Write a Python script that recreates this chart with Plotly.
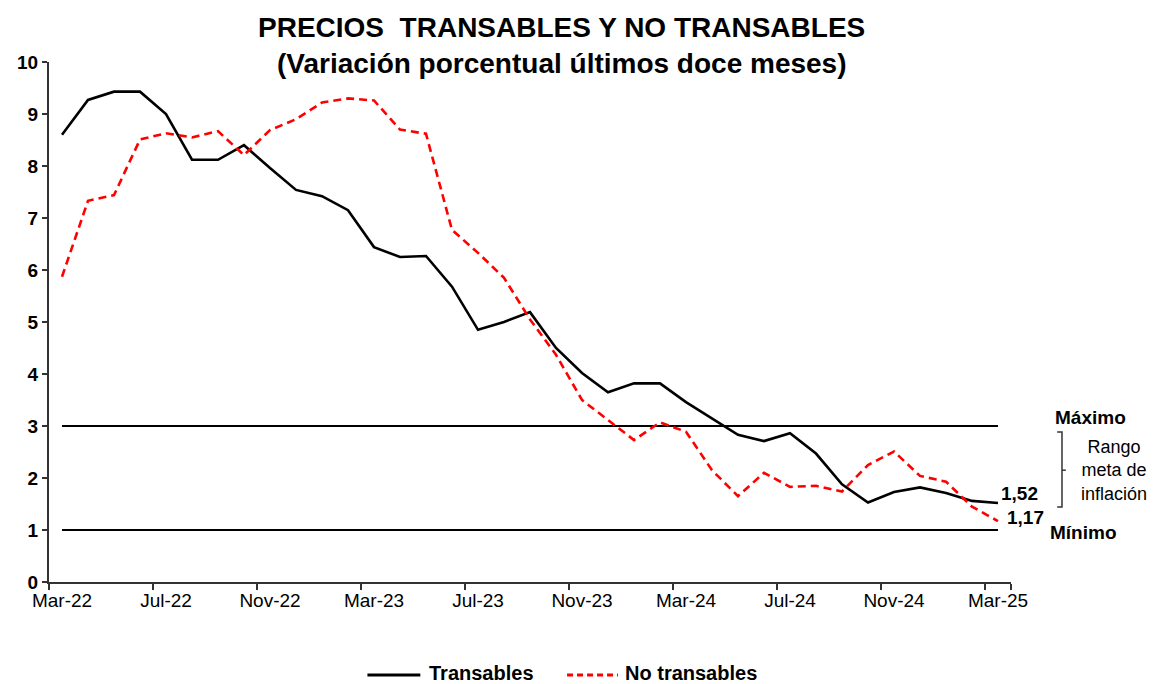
import plotly.graph_objects as go

# monthly categories, Mar-22 .. Mar-25
months = ['Mar-22', 'Apr-22', 'May-22', 'Jun-22', 'Jul-22', 'Aug-22', 'Sep-22', 'Oct-22',
          'Nov-22', 'Dec-22', 'Jan-23', 'Feb-23', 'Mar-23', 'Apr-23', 'May-23', 'Jun-23',
          'Jul-23', 'Aug-23', 'Sep-23', 'Oct-23', 'Nov-23', 'Dec-23', 'Jan-24', 'Feb-24',
          'Mar-24', 'Apr-24', 'May-24', 'Jun-24', 'Jul-24', 'Aug-24', 'Sep-24', 'Oct-24',
          'Nov-24', 'Dec-24', 'Jan-25', 'Feb-25', 'Mar-25']
tick_labels = ['Mar-22', 'Jul-22', 'Nov-22', 'Mar-23', 'Jul-23', 'Nov-23',
               'Mar-24', 'Jul-24', 'Nov-24', 'Mar-25']

transables = [8.60, 9.27, 9.43, 9.43, 9.00, 8.12, 8.12, 8.40, 7.96, 7.54, 7.42, 7.15,
              6.44, 6.25, 6.27, 5.68, 4.85, 5.00, 5.19, 4.50, 4.02, 3.65, 3.82, 3.82,
              3.46, 3.15, 2.83, 2.71, 2.86, 2.47, 1.88, 1.53, 1.73, 1.82, 1.71, 1.56, 1.52]
no_transables = [5.87, 7.33, 7.44, 8.51, 8.63, 8.55, 8.67, 8.21, 8.69, 8.90, 9.22, 9.30,
                 9.26, 8.70, 8.62, 6.77, 6.33, 5.85, 5.05, 4.37, 3.50, 3.12, 2.73, 3.07,
                 2.89, 2.15, 1.65, 2.10, 1.83, 1.85, 1.74, 2.25, 2.51, 2.04, 1.93, 1.45, 1.17]

# inflation target range
meta_max = 3
meta_min = 1

FONT = 'Liberation Sans, Arial, sans-serif'
RED_DASH = '8px,5px'

fig = go.Figure()

# target range lines
for v in [meta_max, meta_min]:
    fig.add_trace(go.Scatter(x=months, y=[v] * len(months), mode='lines',
                             line=dict(color='black', width=2),
                             showlegend=False, hoverinfo='skip'))

fig.add_trace(go.Scatter(x=months, y=transables, mode='lines', name='Transables',
                         line=dict(color='black', width=2.6), showlegend=False))
fig.add_trace(go.Scatter(x=months, y=no_transables, mode='lines', name='No transables',
                         line=dict(color='#ff0000', width=2.6, dash=RED_DASH),
                         showlegend=False))

# title as two centred lines
fig.add_annotation(x=0.533, xref='paper', y=1.067, yref='paper', xanchor='center',
                   yanchor='middle', text='<b>PRECIOS  TRANSABLES Y NO TRANSABLES</b>',
                   showarrow=False, font=dict(size=28, color='black'))
fig.add_annotation(x=0.533, xref='paper', y=0.998, yref='paper', xanchor='center',
                   yanchor='middle', text='<b>(Variación porcentual últimos doce meses)</b>',
                   showarrow=False, font=dict(size=28, color='black'))

# end labels
fig.add_annotation(x=months[-1], y=transables[-1], text='<b>1,52</b>', showarrow=False,
                   xanchor='left', xshift=1, yshift=9, font=dict(size=19, color='black'))
fig.add_annotation(x=months[-1], y=no_transables[-1], text='<b>1,17</b>', showarrow=False,
                   xanchor='left', xshift=7, yshift=4, font=dict(size=19, color='black'))

# range labels on the right
fig.add_annotation(x=1.083, xref='paper', y=3.17, text='<b>Máximo</b>', showarrow=False,
                   xanchor='center', yanchor='middle', font=dict(size=19, color='black'))
fig.add_annotation(x=1.075, xref='paper', y=0.96, text='<b>Mínimo</b>', showarrow=False,
                   xanchor='center', yanchor='middle', font=dict(size=19, color='black'))
fig.add_annotation(x=1.107, xref='paper', y=2.15, text='Rango<br>meta de<br>inflación',
                   showarrow=False, align='center', xanchor='center', yanchor='middle',
                   font=dict(size=18, color='black'))

# bracket
bx = 1.053
fig.add_shape(type='path', xref='paper', yref='y',
              path=f'M {bx - 0.005} 2.885 L {bx} 2.885 L {bx} 1.44 L {bx - 0.005} 1.44',
              line=dict(color='#333333', width=1.5))
fig.add_shape(type='line', xref='paper', yref='y', x0=bx, x1=bx + 0.004, y0=2.15, y1=2.15,
              line=dict(color='#333333', width=1.5))

# legend drawn by hand (longer line samples than plotly's own legend)
leg_y = -0.179
fig.add_shape(type='line', xref='paper', yref='paper', x0=0.331, x1=0.386, y0=leg_y, y1=leg_y,
              line=dict(color='black', width=3))
fig.add_annotation(x=0.393, xref='paper', y=-0.175, yref='paper', xanchor='left',
                   yanchor='middle', text='<b>Transables</b>', showarrow=False,
                   font=dict(size=20, color='black'))
fig.add_shape(type='line', xref='paper', yref='paper', x0=0.5385, x1=0.5915, y0=leg_y,
              y1=leg_y, line=dict(color='#ff0000', width=3, dash='6px,4px'))
fig.add_annotation(x=0.5967, xref='paper', y=-0.175, yref='paper', xanchor='left',
                   yanchor='middle', text='<b>No transables</b>', showarrow=False,
                   font=dict(size=20, color='black'))

# page has an 8px body margin, so the figure is 8px smaller and margins shifted
fig.update_layout(
    width=1150, height=676,
    paper_bgcolor='white', plot_bgcolor='white',
    font=dict(family=FONT, color='black'),
    margin=dict(l=41, r=147, t=54, b=102, autoexpand=False),
    showlegend=False,
    xaxis=dict(type='category', tickmode='array', tickvals=tick_labels, ticktext=tick_labels,
               tickson='boundaries', ticks='outside', ticklen=6, tickwidth=1.5,
               tickcolor='#333333', showline=True, linecolor='#333333', linewidth=2,
               showgrid=False, tickfont=dict(size=19), tickangle=0, automargin=False,
               range=[-0.5, 36.5]),
    yaxis=dict(range=[0, 10], dtick=1, ticks='outside', ticklen=5, tickwidth=1.5,
               tickcolor='#333333', showline=True, linecolor='#333333', linewidth=2,
               showgrid=False, zeroline=False, tickfont=dict(size=19), automargin=False,
               tickprefix='<b>', ticksuffix='</b>'),
)

fig.write_html('out.html')
